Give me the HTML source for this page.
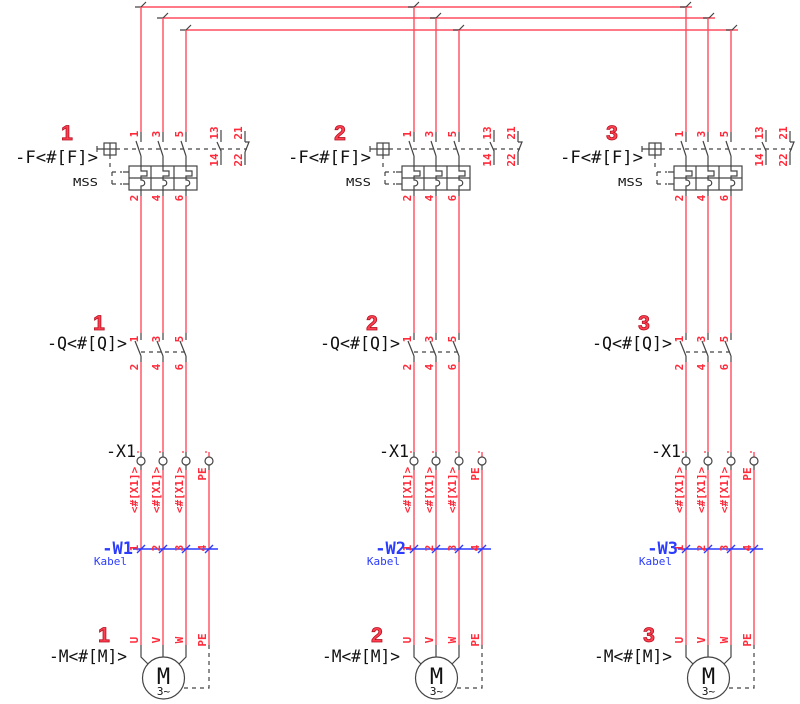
<!DOCTYPE html>
<html><head><meta charset="utf-8">
<style>
html,body{margin:0;padding:0;background:#fff;}
svg{display:block;}
text{font-family:"DejaVu Sans Mono","Liberation Mono",monospace;}
.r{stroke:#ff4d5e;stroke-width:1.4;fill:none;}
.g{stroke:#444;stroke-width:1.2;fill:none;}
.gd{stroke:#444;stroke-width:1.2;fill:none;stroke-dasharray:4 4;}
.b{stroke:#2b3cff;stroke-width:1.4;fill:none;}
.n{fill:#ff2a3a;font-size:11px;font-weight:bold;font-family:"DejaVu Sans Mono","Liberation Mono",monospace;}
.lb{fill:#111;font-size:17px;}
.big{fill:#ff4050;stroke:#b01020;stroke-width:0.8;font-size:21px;font-weight:bold;font-family:"Liberation Sans",sans-serif;}
</style></head><body>
<svg width="800" height="704" viewBox="0 0 800 704" xmlns="http://www.w3.org/2000/svg">
<path class="r" d="M141 7 H692 M163 18 H715 M186 30 H738"/>
<g class="g">
<path d="M135 7h6 l5 -5 M157 18h6 l5 -5 M180 30h6 l5 -5"/>
<path d="M408 7h6 l5 -5 M430 18h6 l5 -5 M453 30h6 l5 -5"/>
<path d="M680 7h6 l5 -5 M703 18h6 l5 -5 M726 30h6 l5 -5"/>
</g>

<g transform="translate(141,0)">
<path class="r" d="M0 7V132 M22 18V132 M45 30V132 M0 196V333 M22 196V333 M45 196V333 M0 362V452 M22 362V452 M45 362V452 M0 470V645 M22 470V645 M45 470V645 M68 452V457 M68 470V645"/>
<g class="g">
<path d="M0 132V142 M-5 141L0 156 M0 156V166 M22 132V142 M17 141L22 156 M22 156V166 M45 132V142 M40 141L45 156 M45 156V166"/>
<path d="M80 130V142 M76 142L80 151 M80 150V165 M104 131V142 M104 142h4 l-4 10 M104 152V165"/>
<rect x="-12" y="166" width="68" height="24"/>
<path d="M10 166V190 M33 166V190 M-12 178H56"/>
<path d="M0 166v5h6v5h-6v2 M22 166v5h6v5h-6v2 M45 166v5h6v5h-6v2"/>
<path d="M0 178v2c5 0 5 6 0 6v4 M22 178v2c5 0 5 6 0 6v4 M45 178v2c5 0 5 6 0 6v4"/>
<path d="M-18 172h6 M-18 184h6"/>
<path d="M0 190V196 M22 190V196 M45 190V196"/>
<path d="M-44 146v6 M-44 149h7"/>
<rect x="-37" y="143" width="12" height="12"/>
<path d="M-31 143v12 M-37 149h12"/>
<path d="M0 333V340 M-6 341L0 356 M0 356V362 M22 333V340 M16 341L22 356 M22 356V362 M45 333V340 M39 341L45 356 M45 356V362"/>
<path d="M0 452V457 M0 465V470 M22 452V457 M22 465V470 M45 452V457 M45 465V470 M68 465V470"/>
<circle cx="0" cy="461" r="4"/><circle cx="22" cy="461" r="4"/><circle cx="45" cy="461" r="4"/><circle cx="68" cy="461" r="4"/>
<path d="M0 645V657L7 664 M22 645V657 M45 645V657L38 664"/>
<circle cx="22.5" cy="678" r="21"/>
</g>
<path class="gd" d="M-25 149H106 M-31 155V167 M-29 172V184 M-29 172h10 M-29 184h10 M0 352H45 M68 645V688H42"/>
<path class="b" d="M-8 549H77 M-4 553l8 -8 M18 553l8 -8 M41 553l8 -8 M64 553l8 -8"/>
<g fill="#ff2a3a"><circle cx="-3" cy="452" r="0.9"/><circle cx="19" cy="452" r="0.9"/><circle cx="42" cy="452" r="0.9"/><circle cx="65" cy="452" r="0.9"/></g>
<g class="n" text-anchor="middle">
<text transform="translate(-3,134) rotate(-90)">1</text>
<text transform="translate(19,134) rotate(-90)">3</text>
<text transform="translate(42,134) rotate(-90)">5</text>
<text transform="translate(77,133) rotate(-90)">13</text>
<text transform="translate(101,133) rotate(-90)">21</text>
<text transform="translate(77,160) rotate(-90)">14</text>
<text transform="translate(101,160) rotate(-90)">22</text>
<text transform="translate(-3,198) rotate(-90)">2</text>
<text transform="translate(19,198) rotate(-90)">4</text>
<text transform="translate(42,198) rotate(-90)">6</text>
<text transform="translate(-3,339) rotate(-90)">1</text>
<text transform="translate(19,339) rotate(-90)">3</text>
<text transform="translate(42,339) rotate(-90)">5</text>
<text transform="translate(-3,367) rotate(-90)">2</text>
<text transform="translate(19,367) rotate(-90)">4</text>
<text transform="translate(42,367) rotate(-90)">6</text>
<text transform="translate(-3,490) rotate(-90)">&lt;#[X1]&gt;</text>
<text transform="translate(19,490) rotate(-90)">&lt;#[X1]&gt;</text>
<text transform="translate(42,490) rotate(-90)">&lt;#[X1]&gt;</text>
<text transform="translate(65,474) rotate(-90)">PE</text>
<text transform="translate(-3,548) rotate(-90)">1</text>
<text transform="translate(19,548) rotate(-90)">2</text>
<text transform="translate(42,548) rotate(-90)">3</text>
<text transform="translate(65,548) rotate(-90)">4</text>
<text transform="translate(-3,640) rotate(-90)">U</text>
<text transform="translate(19,640) rotate(-90)">V</text>
<text transform="translate(42,640) rotate(-90)">W</text>
<text transform="translate(65,640) rotate(-90)">PE</text>
</g>
<text class="lb" x="-126" y="163" textLength="83" lengthAdjust="spacingAndGlyphs">-F&lt;#[F]&gt;</text>
<text x="-68" y="186" font-size="11" fill="#111" textLength="25" lengthAdjust="spacingAndGlyphs">MSS</text>
<text class="lb" x="-94" y="349" textLength="80" lengthAdjust="spacingAndGlyphs">-Q&lt;#[Q]&gt;</text>
<text class="lb" x="-35" y="457" font-size="18" textLength="30" lengthAdjust="spacingAndGlyphs">-X1</text>
<text class="lb" x="-92" y="662" textLength="78" lengthAdjust="spacingAndGlyphs">-M&lt;#[M]&gt;</text>
<text x="22.5" y="684" font-size="22" fill="#111" text-anchor="middle">M</text>
<text x="22.5" y="695" font-size="11" fill="#111" text-anchor="middle">3~</text>
<text x="-8" y="554" fill="#2b3cff" font-size="17" font-weight="bold" text-anchor="end">-W1</text>
<text x="-14" y="565" fill="#2b3cff" font-size="11" text-anchor="end">Kabel</text>
<text class="big" x="-74" y="140" text-anchor="middle">1</text>
<text class="big" x="-42" y="330" text-anchor="middle">1</text>
<text class="big" x="-37" y="642" text-anchor="middle">1</text>
</g>

<g transform="translate(414,0)">
<path class="r" d="M0 7V132 M22 18V132 M45 30V132 M0 196V333 M22 196V333 M45 196V333 M0 362V452 M22 362V452 M45 362V452 M0 470V645 M22 470V645 M45 470V645 M68 452V457 M68 470V645"/>
<g class="g">
<path d="M0 132V142 M-5 141L0 156 M0 156V166 M22 132V142 M17 141L22 156 M22 156V166 M45 132V142 M40 141L45 156 M45 156V166"/>
<path d="M80 130V142 M76 142L80 151 M80 150V165 M104 131V142 M104 142h4 l-4 10 M104 152V165"/>
<rect x="-12" y="166" width="68" height="24"/>
<path d="M10 166V190 M33 166V190 M-12 178H56"/>
<path d="M0 166v5h6v5h-6v2 M22 166v5h6v5h-6v2 M45 166v5h6v5h-6v2"/>
<path d="M0 178v2c5 0 5 6 0 6v4 M22 178v2c5 0 5 6 0 6v4 M45 178v2c5 0 5 6 0 6v4"/>
<path d="M-18 172h6 M-18 184h6"/>
<path d="M0 190V196 M22 190V196 M45 190V196"/>
<path d="M-44 146v6 M-44 149h7"/>
<rect x="-37" y="143" width="12" height="12"/>
<path d="M-31 143v12 M-37 149h12"/>
<path d="M0 333V340 M-6 341L0 356 M0 356V362 M22 333V340 M16 341L22 356 M22 356V362 M45 333V340 M39 341L45 356 M45 356V362"/>
<path d="M0 452V457 M0 465V470 M22 452V457 M22 465V470 M45 452V457 M45 465V470 M68 465V470"/>
<circle cx="0" cy="461" r="4"/><circle cx="22" cy="461" r="4"/><circle cx="45" cy="461" r="4"/><circle cx="68" cy="461" r="4"/>
<path d="M0 645V657L7 664 M22 645V657 M45 645V657L38 664"/>
<circle cx="22.5" cy="678" r="21"/>
</g>
<path class="gd" d="M-25 149H106 M-31 155V167 M-29 172V184 M-29 172h10 M-29 184h10 M0 352H45 M68 645V688H42"/>
<path class="b" d="M-8 549H77 M-4 553l8 -8 M18 553l8 -8 M41 553l8 -8 M64 553l8 -8"/>
<g fill="#ff2a3a"><circle cx="-3" cy="452" r="0.9"/><circle cx="19" cy="452" r="0.9"/><circle cx="42" cy="452" r="0.9"/><circle cx="65" cy="452" r="0.9"/></g>
<g class="n" text-anchor="middle">
<text transform="translate(-3,134) rotate(-90)">1</text>
<text transform="translate(19,134) rotate(-90)">3</text>
<text transform="translate(42,134) rotate(-90)">5</text>
<text transform="translate(77,133) rotate(-90)">13</text>
<text transform="translate(101,133) rotate(-90)">21</text>
<text transform="translate(77,160) rotate(-90)">14</text>
<text transform="translate(101,160) rotate(-90)">22</text>
<text transform="translate(-3,198) rotate(-90)">2</text>
<text transform="translate(19,198) rotate(-90)">4</text>
<text transform="translate(42,198) rotate(-90)">6</text>
<text transform="translate(-3,339) rotate(-90)">1</text>
<text transform="translate(19,339) rotate(-90)">3</text>
<text transform="translate(42,339) rotate(-90)">5</text>
<text transform="translate(-3,367) rotate(-90)">2</text>
<text transform="translate(19,367) rotate(-90)">4</text>
<text transform="translate(42,367) rotate(-90)">6</text>
<text transform="translate(-3,490) rotate(-90)">&lt;#[X1]&gt;</text>
<text transform="translate(19,490) rotate(-90)">&lt;#[X1]&gt;</text>
<text transform="translate(42,490) rotate(-90)">&lt;#[X1]&gt;</text>
<text transform="translate(65,474) rotate(-90)">PE</text>
<text transform="translate(-3,548) rotate(-90)">1</text>
<text transform="translate(19,548) rotate(-90)">2</text>
<text transform="translate(42,548) rotate(-90)">3</text>
<text transform="translate(65,548) rotate(-90)">4</text>
<text transform="translate(-3,640) rotate(-90)">U</text>
<text transform="translate(19,640) rotate(-90)">V</text>
<text transform="translate(42,640) rotate(-90)">W</text>
<text transform="translate(65,640) rotate(-90)">PE</text>
</g>
<text class="lb" x="-126" y="163" textLength="83" lengthAdjust="spacingAndGlyphs">-F&lt;#[F]&gt;</text>
<text x="-68" y="186" font-size="11" fill="#111" textLength="25" lengthAdjust="spacingAndGlyphs">MSS</text>
<text class="lb" x="-94" y="349" textLength="80" lengthAdjust="spacingAndGlyphs">-Q&lt;#[Q]&gt;</text>
<text class="lb" x="-35" y="457" font-size="18" textLength="30" lengthAdjust="spacingAndGlyphs">-X1</text>
<text class="lb" x="-92" y="662" textLength="78" lengthAdjust="spacingAndGlyphs">-M&lt;#[M]&gt;</text>
<text x="22.5" y="684" font-size="22" fill="#111" text-anchor="middle">M</text>
<text x="22.5" y="695" font-size="11" fill="#111" text-anchor="middle">3~</text>
<text x="-8" y="554" fill="#2b3cff" font-size="17" font-weight="bold" text-anchor="end">-W2</text>
<text x="-14" y="565" fill="#2b3cff" font-size="11" text-anchor="end">Kabel</text>
<text class="big" x="-74" y="140" text-anchor="middle">2</text>
<text class="big" x="-42" y="330" text-anchor="middle">2</text>
<text class="big" x="-37" y="642" text-anchor="middle">2</text>
</g>

<g transform="translate(686,0)">
<path class="r" d="M0 7V132 M22 18V132 M45 30V132 M0 196V333 M22 196V333 M45 196V333 M0 362V452 M22 362V452 M45 362V452 M0 470V645 M22 470V645 M45 470V645 M68 452V457 M68 470V645"/>
<g class="g">
<path d="M0 132V142 M-5 141L0 156 M0 156V166 M22 132V142 M17 141L22 156 M22 156V166 M45 132V142 M40 141L45 156 M45 156V166"/>
<path d="M80 130V142 M76 142L80 151 M80 150V165 M104 131V142 M104 142h4 l-4 10 M104 152V165"/>
<rect x="-12" y="166" width="68" height="24"/>
<path d="M10 166V190 M33 166V190 M-12 178H56"/>
<path d="M0 166v5h6v5h-6v2 M22 166v5h6v5h-6v2 M45 166v5h6v5h-6v2"/>
<path d="M0 178v2c5 0 5 6 0 6v4 M22 178v2c5 0 5 6 0 6v4 M45 178v2c5 0 5 6 0 6v4"/>
<path d="M-18 172h6 M-18 184h6"/>
<path d="M0 190V196 M22 190V196 M45 190V196"/>
<path d="M-44 146v6 M-44 149h7"/>
<rect x="-37" y="143" width="12" height="12"/>
<path d="M-31 143v12 M-37 149h12"/>
<path d="M0 333V340 M-6 341L0 356 M0 356V362 M22 333V340 M16 341L22 356 M22 356V362 M45 333V340 M39 341L45 356 M45 356V362"/>
<path d="M0 452V457 M0 465V470 M22 452V457 M22 465V470 M45 452V457 M45 465V470 M68 465V470"/>
<circle cx="0" cy="461" r="4"/><circle cx="22" cy="461" r="4"/><circle cx="45" cy="461" r="4"/><circle cx="68" cy="461" r="4"/>
<path d="M0 645V657L7 664 M22 645V657 M45 645V657L38 664"/>
<circle cx="22.5" cy="678" r="21"/>
</g>
<path class="gd" d="M-25 149H106 M-31 155V167 M-29 172V184 M-29 172h10 M-29 184h10 M0 352H45 M68 645V688H42"/>
<path class="b" d="M-8 549H77 M-4 553l8 -8 M18 553l8 -8 M41 553l8 -8 M64 553l8 -8"/>
<g fill="#ff2a3a"><circle cx="-3" cy="452" r="0.9"/><circle cx="19" cy="452" r="0.9"/><circle cx="42" cy="452" r="0.9"/><circle cx="65" cy="452" r="0.9"/></g>
<g class="n" text-anchor="middle">
<text transform="translate(-3,134) rotate(-90)">1</text>
<text transform="translate(19,134) rotate(-90)">3</text>
<text transform="translate(42,134) rotate(-90)">5</text>
<text transform="translate(77,133) rotate(-90)">13</text>
<text transform="translate(101,133) rotate(-90)">21</text>
<text transform="translate(77,160) rotate(-90)">14</text>
<text transform="translate(101,160) rotate(-90)">22</text>
<text transform="translate(-3,198) rotate(-90)">2</text>
<text transform="translate(19,198) rotate(-90)">4</text>
<text transform="translate(42,198) rotate(-90)">6</text>
<text transform="translate(-3,339) rotate(-90)">1</text>
<text transform="translate(19,339) rotate(-90)">3</text>
<text transform="translate(42,339) rotate(-90)">5</text>
<text transform="translate(-3,367) rotate(-90)">2</text>
<text transform="translate(19,367) rotate(-90)">4</text>
<text transform="translate(42,367) rotate(-90)">6</text>
<text transform="translate(-3,490) rotate(-90)">&lt;#[X1]&gt;</text>
<text transform="translate(19,490) rotate(-90)">&lt;#[X1]&gt;</text>
<text transform="translate(42,490) rotate(-90)">&lt;#[X1]&gt;</text>
<text transform="translate(65,474) rotate(-90)">PE</text>
<text transform="translate(-3,548) rotate(-90)">1</text>
<text transform="translate(19,548) rotate(-90)">2</text>
<text transform="translate(42,548) rotate(-90)">3</text>
<text transform="translate(65,548) rotate(-90)">4</text>
<text transform="translate(-3,640) rotate(-90)">U</text>
<text transform="translate(19,640) rotate(-90)">V</text>
<text transform="translate(42,640) rotate(-90)">W</text>
<text transform="translate(65,640) rotate(-90)">PE</text>
</g>
<text class="lb" x="-126" y="163" textLength="83" lengthAdjust="spacingAndGlyphs">-F&lt;#[F]&gt;</text>
<text x="-68" y="186" font-size="11" fill="#111" textLength="25" lengthAdjust="spacingAndGlyphs">MSS</text>
<text class="lb" x="-94" y="349" textLength="80" lengthAdjust="spacingAndGlyphs">-Q&lt;#[Q]&gt;</text>
<text class="lb" x="-35" y="457" font-size="18" textLength="30" lengthAdjust="spacingAndGlyphs">-X1</text>
<text class="lb" x="-92" y="662" textLength="78" lengthAdjust="spacingAndGlyphs">-M&lt;#[M]&gt;</text>
<text x="22.5" y="684" font-size="22" fill="#111" text-anchor="middle">M</text>
<text x="22.5" y="695" font-size="11" fill="#111" text-anchor="middle">3~</text>
<text x="-8" y="554" fill="#2b3cff" font-size="17" font-weight="bold" text-anchor="end">-W3</text>
<text x="-14" y="565" fill="#2b3cff" font-size="11" text-anchor="end">Kabel</text>
<text class="big" x="-74" y="140" text-anchor="middle">3</text>
<text class="big" x="-42" y="330" text-anchor="middle">3</text>
<text class="big" x="-37" y="642" text-anchor="middle">3</text>
</g>
</svg>
</body></html>
